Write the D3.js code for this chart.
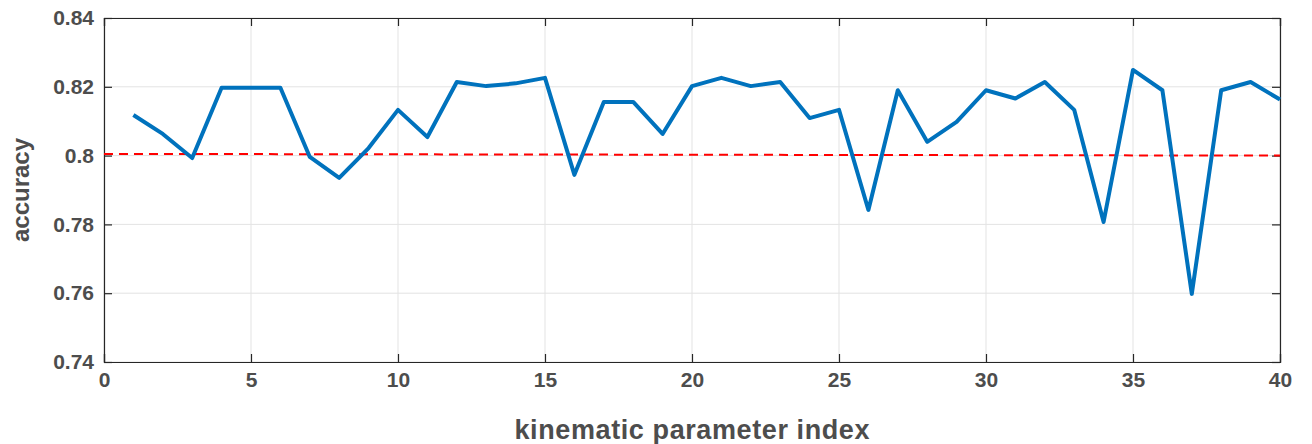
<!DOCTYPE html>
<html><head><meta charset="utf-8">
<script src="https://cdn.jsdelivr.net/npm/d3@7"></script>
<style>body{margin:0;background:#fff}text{font-family:"Liberation Sans",Arial,sans-serif}</style>
</head><body><svg id="c" width="1312" height="444"></svg>
<script>
// accuracy per kinematic parameter index
const idx = d3.range(1, 41);
const accuracy = [0.8118,0.8063,0.7993,0.8197,0.8197,0.8197,0.7996,0.7935,0.8022,0.8133,
  0.8054,0.8214,0.8202,0.8210,0.8226,0.7944,0.8156,0.8156,0.8063,0.8202,
  0.8226,0.8202,0.8214,0.8109,0.8133,0.7842,0.8190,0.8040,0.8098,0.8190,
  0.8166,0.8214,0.8133,0.7807,0.8249,0.8190,0.7598,0.8190,0.8214,0.8163];
const baseline = [0.8005, 0.8000]; // at x=0 and x=40
const xTicks = [0,5,10,15,20,25,30,35,40];
const yTicks = [0.74,0.76,0.78,0.8,0.82,0.84];

const svg = d3.select("#c");
const L = 104, R = 1280, T = 18, B = 362;
const x = d3.scaleLinear().domain([0,40]).range([L,R]);
const y = d3.scaleLinear().domain([0.74,0.84]).range([B,T]);
const grey = "#4d4d4d";

// grid
svg.append("g").selectAll("line").data(xTicks).join("line")
  .attr("x1",d=>x(d)).attr("x2",d=>x(d)).attr("y1",T).attr("y2",B)
  .attr("stroke","#e3e3e3");
svg.append("g").selectAll("line").data(yTicks).join("line")
  .attr("x1",L).attr("x2",R).attr("y1",d=>y(d)).attr("y2",d=>y(d))
  .attr("stroke","#e3e3e3");

// axes
const fmtY = d => d===0.8 ? "0.8" : d3.format(".2f")(d);
const gx = svg.append("g").attr("transform",`translate(0,${B})`)
  .call(d3.axisBottom(x).tickValues(xTicks).tickSize(-8).tickPadding(10));
const gx2 = svg.append("g").attr("transform",`translate(0,${T})`)
  .call(d3.axisTop(x).tickValues(xTicks).tickSize(-8).tickFormat(""));
const gy = svg.append("g").attr("transform",`translate(${L},0)`)
  .call(d3.axisLeft(y).tickValues(yTicks).tickFormat(fmtY).tickSize(-8).tickPadding(10));
const gy2 = svg.append("g").attr("transform",`translate(${R},0)`)
  .call(d3.axisRight(y).tickValues(yTicks).tickSize(-8).tickFormat(""));
[gx,gx2,gy,gy2].forEach(g=>{
  g.selectAll("path,line").attr("stroke","#262626").attr("stroke-width",1.2);
  g.selectAll("text").attr("fill",grey).style("font-size","21px").style("font-weight","bold");
});

// baseline
svg.append("line").attr("x1",x(0)).attr("x2",x(40))
  .attr("y1",y(baseline[0])).attr("y2",y(baseline[1]))
  .attr("stroke","#ff0000").attr("stroke-width",2).attr("stroke-dasharray","9,6");

// line
svg.append("path").datum(idx.map((d,i)=>[d,accuracy[i]]))
  .attr("fill","none").attr("stroke","#0072bd").attr("stroke-width",4)
  .attr("stroke-linejoin","round")
  .attr("d",d3.line().x(d=>x(d[0])).y(d=>y(d[1])));

// labels
svg.append("text").attr("x",(L+R)/2).attr("y",439).attr("text-anchor","middle")
  .attr("fill",grey).style("font-size","27px").style("font-weight","bold")
  .attr("textLength",355).text("kinematic parameter index");
svg.append("text").attr("transform",`translate(29,${(T+B)/2}) rotate(-90)`)
  .attr("text-anchor","middle").attr("fill",grey)
  .style("font-size","24px").style("font-weight","bold").text("accuracy");
</script></body></html>
